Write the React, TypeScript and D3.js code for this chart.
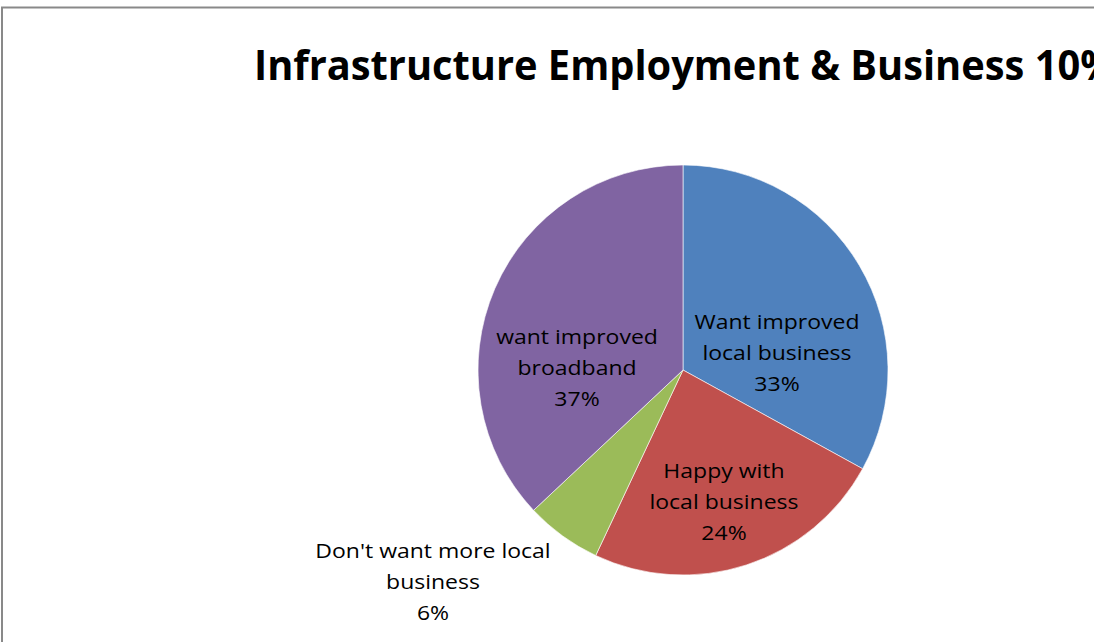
import React from "react";
import * as d3 from "d3";

const categories = [
  "Want improved local business",
  "Happy with local business",
  "Don't want more local business",
  "want improved broadband",
];
const values = [33, 24, 6, 37];
const labelLines = [
  ["Want improved", "local business", "33%"],
  ["Happy with", "local business", "24%"],
  ["Don't want more local", "business", "6%"],
  ["want improved", "broadband", "37%"],
];
const colors = ["#4F81BD", "#C0504D", "#9BBB59", "#8064A2"];
const title = "Infrastructure Employment & Business 10%";

// label anchor offsets (relative to pie center), as Excel placed them
const labelOffsets: [number, number][] = [
  [94, -17],
  [41, 132],
  [-250, 212],
  [-106, -2],
];

export default function App() {
  const W = 1094;
  const H = 642;
  const cx = 683;
  const cy = 370;
  const r = 205;
  const pie = d3
    .pie<number>()
    .sort(null)
    .value((d) => d);
  const arcs = pie(values);
  const arc = d3.arc<d3.PieArcDatum<number>>().innerRadius(0).outerRadius(r);
  const font = "'Open Sans', 'Liberation Sans', sans-serif";
  const lh = 31;
  return (
    <svg
      width={W}
      height={H}
      style={{ position: "absolute", left: 0, top: 0, background: "#fff" }}
    >
      <rect x={2} y={7.5} width={1300} height={900} fill="#fff" stroke="#898989" strokeWidth={2} />
      <text
        x={254}
        y={80}
        fontFamily={font}
        fontWeight="bold"
        fontSize={41}
        textLength={862}
        lengthAdjust="spacingAndGlyphs"
        fill="#000"
      >
        {title}
      </text>
      <g transform={`translate(${cx},${cy})`}>
        {arcs.map((a, i) => (
          <path key={categories[i]} d={arc(a) || ""} fill={colors[i]} stroke="#fff" strokeWidth={0.6} />
        ))}
        {arcs.map((a, i) => {
          const [dx, dy] = labelOffsets[i];
          const lines = labelLines[i];
          return (
            <g key={"l" + i} transform={`translate(${dx},${dy}) scale(1.15,1)`}>
              <text textAnchor="middle" fontFamily={font} fontSize={20} fill="#000">
                {lines.map((ln, j) => (
                  <tspan key={j} x={0} y={(j - (lines.length - 1) / 2) * lh + 7}>
                    {ln}
                  </tspan>
                ))}
              </text>
            </g>
          );
        })}
      </g>
    </svg>
  );
}
